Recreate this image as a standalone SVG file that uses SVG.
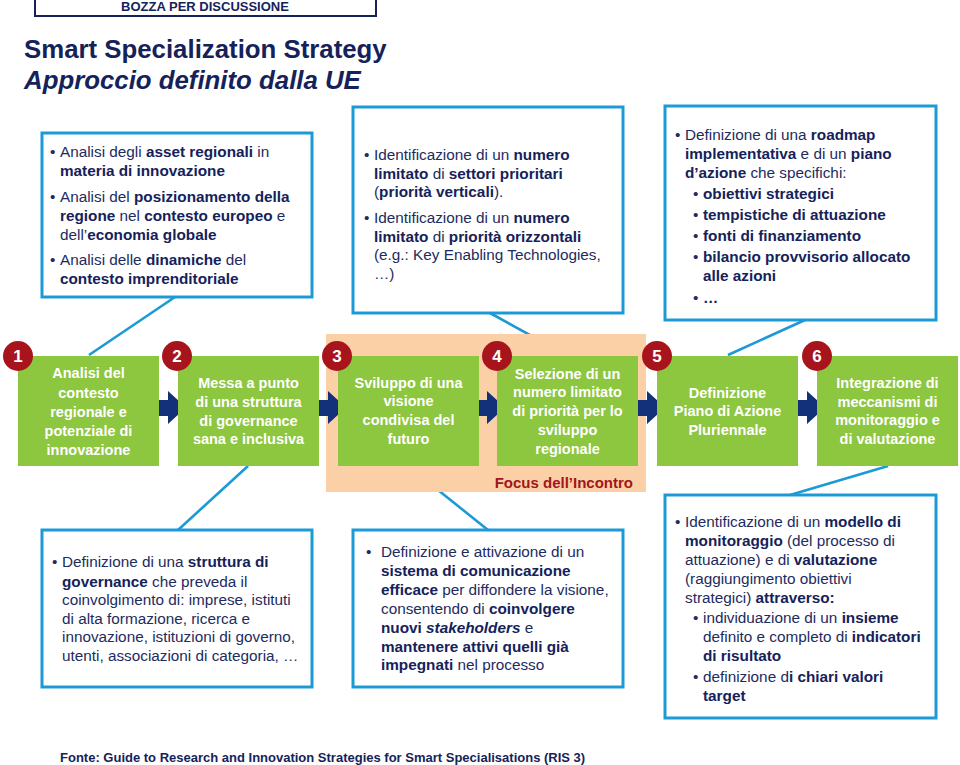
<svg xmlns="http://www.w3.org/2000/svg" width="960" height="765" viewBox="0 0 960 765">
<style>
.box{fill:#fff;stroke:#1c9ad6;stroke-width:3}
.step{fill:#8dc63f}
.circ{fill:#a8141c}
.num{font-family:"Liberation Sans",Arial,sans-serif;font-weight:bold;font-size:17px;fill:#fff;text-anchor:middle}
.st{font-family:"Liberation Sans",Arial,sans-serif;font-weight:bold;font-size:14.5px;fill:#fff;text-anchor:middle}
.t{font-family:"Liberation Sans",Arial,sans-serif;font-size:15.3px;fill:#1d2b5e}
.b{font-weight:bold;fill:#15225a}
.conn{stroke:#1c9ad6;stroke-width:2.6;fill:none}
.arr{fill:#13307a}
</style>
<rect width="960" height="765" fill="#fff"/>
<g id="header">
<rect x="35" y="-5" width="341" height="21" fill="#fff" stroke="#15225a" stroke-width="2"/>
<text x="205" y="11" text-anchor="middle" font-family="Liberation Sans,Arial,sans-serif" font-weight="bold" font-size="13px" fill="#15225a">BOZZA PER DISCUSSIONE</text>
<text x="24" y="58" font-family="Liberation Sans,Arial,sans-serif" font-weight="bold" font-size="25.8px" fill="#15225a">Smart Specialization Strategy</text>
<text x="24" y="89" font-family="Liberation Sans,Arial,sans-serif" font-weight="bold" font-style="italic" font-size="25.8px" fill="#15225a">Approccio definito dalla UE</text>
</g>
<g id="connectors">
<line class="conn" x1="175" y1="297" x2="89" y2="355"/>
<line class="conn" x1="490" y1="313" x2="568" y2="356"/>
<line class="conn" x1="805" y1="320" x2="728" y2="355"/>
<line class="conn" x1="248" y1="466" x2="178" y2="530"/>
<line class="conn" x1="408" y1="466" x2="488" y2="530"/>
<line class="conn" x1="888" y1="466" x2="790" y2="495"/>
</g>
<g id="focus">
<rect x="326" y="334" width="320" height="158" fill="#fcd0a6"/>
<text x="633" y="488" text-anchor="end" font-family="Liberation Sans,Arial,sans-serif" font-weight="bold" font-size="15px" fill="#a3151c">Focus dell’Incontro</text>
</g>
<g id="box-analisi">
<rect class="box" x="42" y="133" width="270" height="164"/>
<text class="t"><tspan x="50" y="157">•</tspan><tspan x="60" y="157">Analisi degli <tspan class="b">asset regionali</tspan> in</tspan><tspan x="60" y="176" class="b">materia di innovazione</tspan><tspan x="50" y="202">•</tspan><tspan x="60" y="202">Analisi del <tspan class="b">posizionamento della</tspan></tspan><tspan x="60" y="221"><tspan class="b">regione</tspan> nel <tspan class="b">contesto europeo</tspan> e</tspan><tspan x="60" y="240">dell’<tspan class="b">economia globale</tspan></tspan><tspan x="50" y="265">•</tspan><tspan x="60" y="265">Analisi delle <tspan class="b">dinamiche</tspan> del</tspan><tspan x="60" y="284" class="b">contesto imprenditoriale</tspan></text>
</g>
<g id="box-priorita">
<rect class="box" x="353" y="107" width="270" height="206"/>
<text class="t"><tspan x="364" y="160">•</tspan><tspan x="374" y="160">Identificazione di un <tspan class="b">numero</tspan></tspan><tspan x="374" y="179"><tspan class="b">limitato</tspan> di <tspan class="b">settori prioritari</tspan></tspan><tspan x="374" y="197">(<tspan class="b">priorità verticali</tspan>).</tspan><tspan x="364" y="223">•</tspan><tspan x="374" y="223">Identificazione di un <tspan class="b">numero</tspan></tspan><tspan x="374" y="242"><tspan class="b">limitato</tspan> di <tspan class="b">priorità orizzontali</tspan></tspan><tspan x="374" y="260">(e.g.: Key Enabling Technologies,</tspan><tspan x="374" y="279">…)</tspan></text>
</g>
<g id="box-roadmap">
<rect class="box" x="665" y="106" width="271" height="214"/>
<text class="t"><tspan x="675" y="140">•</tspan><tspan x="685" y="140">Definizione di una <tspan class="b">roadmap</tspan></tspan><tspan x="685" y="159"><tspan class="b">implementativa</tspan> e di un <tspan class="b">piano</tspan></tspan><tspan x="685" y="178"><tspan class="b">d’azione</tspan> che specifichi:</tspan><tspan x="693" y="199">•</tspan><tspan x="703" y="199" class="b">obiettivi strategici</tspan><tspan x="693" y="220">•</tspan><tspan x="703" y="220" class="b">tempistiche di attuazione</tspan><tspan x="693" y="241">•</tspan><tspan x="703" y="241" class="b">fonti di finanziamento</tspan><tspan x="693" y="262">•</tspan><tspan x="703" y="262" class="b">bilancio provvisorio allocato</tspan><tspan x="703" y="281" class="b">alle azioni</tspan><tspan x="693" y="303">•</tspan><tspan x="703" y="303" class="b">…</tspan></text>
</g>
<g id="arrows">
<path class="arr" d="M152,400 H168 V391 L186,407.5 L168,424 V416 H152 Z"/>
<path class="arr" d="M312,400 H328 V391 L346,407.5 L328,424 V416 H312 Z"/>
<path class="arr" d="M471,400 H487 V391 L505,407.5 L487,424 V416 H471 Z"/>
<path class="arr" d="M631,400 H647 V391 L665,407.5 L647,424 V416 H631 Z"/>
<path class="arr" d="M791,400 H807 V391 L825,407.5 L807,424 V416 H791 Z"/>
</g>
<g id="step1">
<rect class="step" x="18" y="356" width="141" height="110"/>
<circle class="circ" cx="18" cy="356" r="15"/><text class="num" x="18" y="362">1</text>
<text class="st"><tspan x="88.5" y="378">Analisi del</tspan><tspan x="88.5" y="398">contesto</tspan><tspan x="88.5" y="417">regionale e</tspan><tspan x="88.5" y="436">potenziale di</tspan><tspan x="88.5" y="455">innovazione</tspan></text>
</g>
<g id="step2">
<rect class="step" x="178" y="356" width="141" height="110"/>
<circle class="circ" cx="177" cy="356" r="15"/><text class="num" x="177" y="362">2</text>
<text class="st"><tspan x="248.5" y="388">Messa a punto</tspan><tspan x="248.5" y="407">di una struttura</tspan><tspan x="248.5" y="426">di governance</tspan><tspan x="248.5" y="444">sana e inclusiva</tspan></text>
</g>
<g id="step3">
<rect class="step" x="338" y="356" width="141" height="110"/>
<circle class="circ" cx="337" cy="356" r="15"/><text class="num" x="337" y="362">3</text>
<text class="st"><tspan x="408.5" y="388">Sviluppo di una</tspan><tspan x="408.5" y="406">visione</tspan><tspan x="408.5" y="425">condivisa del</tspan><tspan x="408.5" y="444">futuro</tspan></text>
</g>
<g id="step4">
<rect class="step" x="497" y="356" width="141" height="110"/>
<circle class="circ" cx="497" cy="356" r="15"/><text class="num" x="497" y="362">4</text>
<text class="st"><tspan x="567.5" y="379">Selezione di un</tspan><tspan x="567.5" y="397">numero limitato</tspan><tspan x="567.5" y="416">di priorità per lo</tspan><tspan x="567.5" y="435">sviluppo</tspan><tspan x="567.5" y="454">regionale</tspan></text>
</g>
<g id="step5">
<rect class="step" x="657" y="356" width="141" height="110"/>
<circle class="circ" cx="657" cy="356" r="15"/><text class="num" x="657" y="362">5</text>
<text class="st"><tspan x="727.5" y="398">Definizione</tspan><tspan x="727.5" y="416">Piano di Azione</tspan><tspan x="727.5" y="435">Pluriennale</tspan></text>
</g>
<g id="step6">
<rect class="step" x="817" y="356" width="141" height="110"/>
<circle class="circ" cx="817" cy="356" r="15"/><text class="num" x="817" y="362">6</text>
<text class="st"><tspan x="887.5" y="388">Integrazione di</tspan><tspan x="887.5" y="407">meccanismi di</tspan><tspan x="887.5" y="425">monitoraggio e</tspan><tspan x="887.5" y="444">di valutazione</tspan></text>
</g>
<g id="box-governance">
<rect class="box" x="42" y="530" width="270" height="157"/>
<text class="t"><tspan x="52" y="567">•</tspan><tspan x="62" y="567">Definizione di una <tspan class="b">struttura di</tspan></tspan><tspan x="62" y="587"><tspan class="b">governance</tspan> che preveda il</tspan><tspan x="62" y="605">coinvolgimento di: imprese, istituti</tspan><tspan x="62" y="624">di alta formazione, ricerca e</tspan><tspan x="62" y="642">innovazione, istituzioni di governo,</tspan><tspan x="62" y="661">utenti, associazioni di categoria, …</tspan></text>
</g>
<g id="box-comunicazione">
<rect class="box" x="353" y="530" width="270" height="157"/>
<text class="t"><tspan x="366" y="557">•</tspan><tspan x="381" y="557">Definizione e attivazione di un</tspan><tspan x="381" y="576" class="b">sistema di comunicazione</tspan><tspan x="381" y="595"><tspan class="b">efficace</tspan> per diffondere la visione,</tspan><tspan x="381" y="614">consentendo di <tspan class="b">coinvolgere</tspan></tspan><tspan x="381" y="633"><tspan class="b">nuovi <tspan font-style="italic">stakeholders</tspan></tspan> e</tspan><tspan x="381" y="652" class="b">mantenere attivi quelli già</tspan><tspan x="381" y="670"><tspan class="b">impegnati</tspan> nel processo</tspan></text>
</g>
<g id="box-monitoraggio">
<rect class="box" x="665" y="495" width="271" height="223"/>
<text class="t"><tspan x="675" y="527">•</tspan><tspan x="685" y="527">Identificazione di un <tspan class="b">modello di</tspan></tspan><tspan x="685" y="546"><tspan class="b">monitoraggio</tspan> (del processo di</tspan><tspan x="685" y="565">attuazione) e di <tspan class="b">valutazione</tspan></tspan><tspan x="685" y="584">(raggiungimento obiettivi</tspan><tspan x="685" y="603">strategici) <tspan class="b">attraverso:</tspan></tspan><tspan x="693" y="623">•</tspan><tspan x="703" y="623">individuazione di un <tspan class="b">insieme</tspan></tspan><tspan x="703" y="642">definito e completo di <tspan class="b">indicatori</tspan></tspan><tspan x="703" y="661" class="b">di risultato</tspan><tspan x="693" y="682">•</tspan><tspan x="703" y="682">definizione d<tspan class="b">i chiari valori</tspan></tspan><tspan x="703" y="701" class="b">target</tspan></text>
</g>
<g id="footer">
<text x="60" y="762" font-family="Liberation Sans,Arial,sans-serif" font-weight="bold" font-size="13px" fill="#15225a">Fonte: Guide to Research and Innovation Strategies for Smart Specialisations (RIS 3)</text>
</g>
</svg>
